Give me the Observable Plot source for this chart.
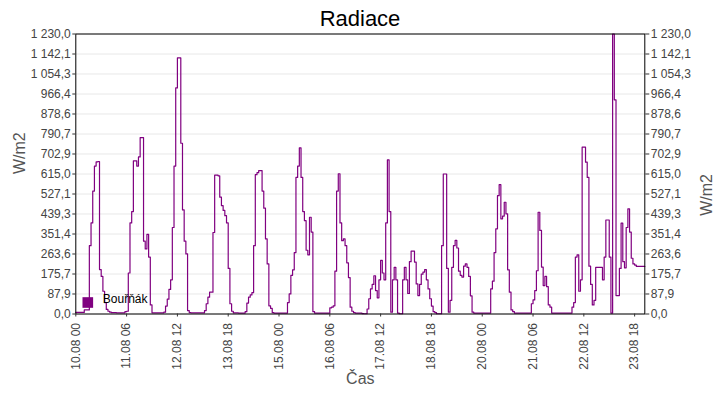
<!DOCTYPE html>
<html>
<head>
<meta charset="utf-8">
<script src="https://cdn.jsdelivr.net/npm/d3@7"></script>
<script src="https://cdn.jsdelivr.net/npm/@observablehq/plot@0.6"></script>
<style>
  html, body { margin: 0; padding: 0; background: #fff; }
  #wrap { position: relative; width: 720px; height: 400px; font-family: "Liberation Sans", Arial, sans-serif; }
  #spacer { height: 28px; }
  #title { position: absolute; left: 0; top: 8px; width: 720px; text-align: center; font-size: 22px; line-height: 22px; color: #000; }
  svg { display: block; }
</style>
</head>
<body>
<div id="wrap">
  <div id="title">Radiace</div>
  <div id="spacer"></div>
  <div id="chart"></div>
</div>
<script>
// ---- data (hourly values, W/m2) ----
const seriesName = "Bouřňák";
const yLabel = "W/m2";
const xLabel = "Čas";
const days = ["10.08","11.08","12.08","13.08","14.08","15.08","16.08","17.08","18.08","19.08","20.08","21.08","22.08","23.08"];
const d10 = [7,7,7,7,7,18,18,18,300,400,540,650,668,670,195,165,100,50,20,12,8,6,6,6];
const d11 = [5,5,5,5,5,10,12,180,400,450,673,673,650,690,775,775,320,286,350,250,40,5,5,5];
const d12 = [5,5,5,5,8,35,65,108,150,380,650,993,1125,1125,750,457,320,264,15,6,5,5,5,5];
const d13 = [5,5,5,5,15,45,74,96,96,358,610,610,607,513,476,455,432,400,200,45,12,5,5,5];
const d14 = [4,4,4,4,10,48,74,84,94,300,612,621,630,630,540,465,330,220,36,25,6,4,4,4];
const d15 = [4,4,4,4,4,50,88,170,194,270,600,650,730,600,450,410,280,260,425,360,10,4,4,4];
const d16 = [4,4,4,4,4,4,27,30,36,188,540,616,400,322,330,300,225,160,30,12,6,4,4,4];
const d17 = [4,2,1,1,22,67,110,130,168,103,71,150,236,180,150,400,677,450,8,150,205,150,4,1];
const d18 = [1,150,205,150,90,230,276,276,228,132,81,130,175,184,195,150,110,67,35,10,6,1,1,1];
const d19 = [300,615,615,200,8,60,205,300,323,290,188,170,162,210,220,205,165,80,8,4,4,4,4,4];
const d20 = [4,4,4,4,4,110,144,270,374,520,568,418,430,491,440,194,96,18,10,4,4,4,4,4];
const d21 = [4,4,4,4,4,45,62,103,190,447,367,206,125,165,120,40,30,4,4,4,4,4,4,4];
const d22 = [4,4,4,4,4,30,50,250,260,100,150,733,733,667,600,210,130,40,60,205,205,205,205,150];
const d23 = [250,413,413,250,4,1230,941,81,81,200,399,230,203,380,462,360,245,220,215,209,209,209,209,209];
const series = [d10,d11,d12,d13,d14,d15,d16,d17,d18,d19,d20,d21,d22,d23];
const endLabel = "24.08 00";

const xTickLabels = ["10.08 00","11.08 06","12.08 12","13.08 18","15.08 00","16.08 06","17.08 12","18.08 18","20.08 00","21.08 06","22.08 12","23.08 18"];
const yTickLabels = ["0,0","87,9","175,7","263,6","351,4","439,3","527,1","615,0","702,9","790,7","878,6","966,4","1 054,3","1 142,1","1 230,0"];

// ---- build ----
const parse = d3.utcParse("%d.%m %H");
const fmt = d3.utcFormat("%d.%m %H");
const data = [];
series.forEach((vals, di) => vals.forEach((v, h) => {
  data.push({t: parse(days[di] + " " + String(h).padStart(2, "0")), v});
}));
data.push({t: parse(endLabel), v: d23[d23.length - 1]});

const xTicks = xTickLabels.map(parse);
const yTicks = yTickLabels.map(s => +s.replace(/\s/g, "").replace(",", "."));
const yFmt = new Map(yTicks.map((v, i) => [v, yTickLabels[i]]));
const yMax = yTicks[yTicks.length - 1];

const W = 720, H = 372;
const chart = Plot.plot({
  width: W,
  height: H,
  marginTop: 5.5,
  marginBottom: 86.5,
  marginLeft: 75.3,
  marginRight: 75.7,
  style: {fontFamily: "'Liberation Sans', Arial, sans-serif", fontSize: "12px", background: "white", overflow: "visible"},
  x: {type: "utc", domain: [parse(days[0] + " 00"), parse(endLabel)]},
  y: {domain: [0, yMax]},
  marks: [
    Plot.gridY(yTicks, {stroke: "#e8e8e8", strokeOpacity: 1}),
    Plot.line(data, {x: "t", y: "v", curve: "step-after", stroke: "#800080", strokeWidth: 1.2}),
    Plot.frame({stroke: "#000", strokeWidth: 1}),
    Plot.axisY(yTicks, {anchor: "left", tickSize: 3, tickPadding: 2, tickFormat: d => yFmt.get(d), fill: "#444", stroke: "#333", label: null, fontSize: 12}),
    Plot.axisY(yTicks, {anchor: "right", tickSize: 4, tickPadding: 2, tickFormat: d => yFmt.get(d), fill: "#444", stroke: "#333", label: null, fontSize: 12}),
    Plot.axisX(xTicks, {anchor: "bottom", tickSize: 3, tickPadding: 6, tickRotate: -90, tickFormat: d => fmt(d), fill: "#444", stroke: "#333", label: null, fontSize: 12}),
    Plot.text([yLabel], {frameAnchor: "left", dx: -56, rotate: -90, fontSize: 16, fill: "#555"}),
    Plot.text([yLabel], {frameAnchor: "right", dx: 61.7, rotate: -90, fontSize: 16, fill: "#555"}),
    Plot.text([xLabel], {frameAnchor: "bottom", dy: 69.5, fontSize: 16, fill: "#555"}),
    Plot.dot([seriesName], {frameAnchor: "bottom-left", dx: 12, dy: -11.5, symbol: "square", r: 6, fill: "#800080", stroke: null}),
    Plot.text([seriesName], {frameAnchor: "bottom-left", dx: 27, dy: -10.6, textAnchor: "start", fontSize: 12, fill: "#000"})
  ]
});
document.getElementById("chart").appendChild(chart);
</script>
</body>
</html>
